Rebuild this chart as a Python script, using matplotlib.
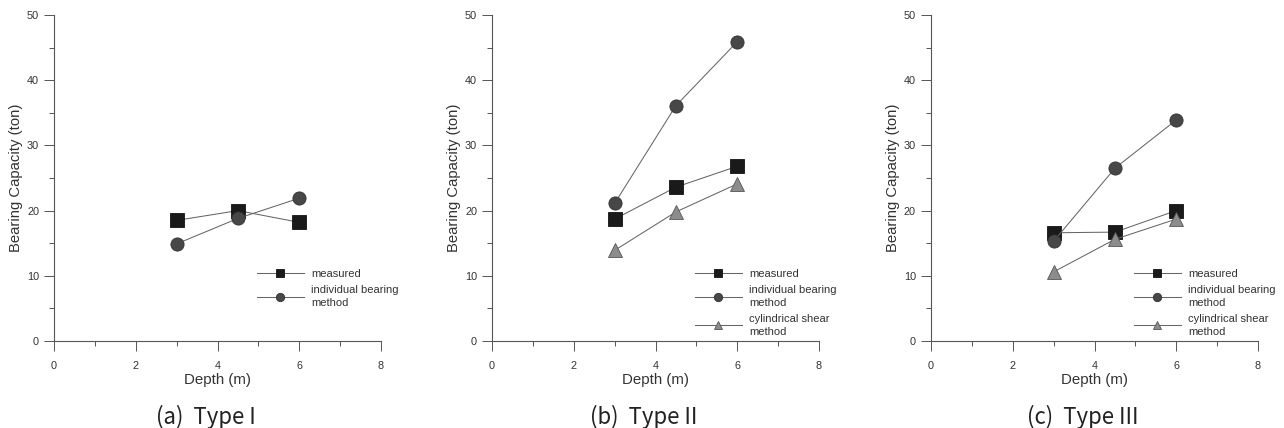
import matplotlib
matplotlib.use("Agg")
import matplotlib.pyplot as plt

plt.rcParams['font.family'] = ['Liberation Sans', 'DejaVu Sans']

depth = [3, 4.5, 6]

# panel (a) Type I
a_measured = [18.5, 20.0, 18.2]
a_individual = [14.9, 18.8, 21.9]

# panel (b) Type II
b_measured = [18.7, 23.6, 26.8]
b_individual = [21.1, 36.1, 45.9]
b_cylindrical = [13.9, 19.8, 24.1]

# panel (c) Type III
c_measured = [16.6, 16.7, 20.0]
c_individual = [15.3, 26.5, 33.9]
c_cylindrical = [10.6, 15.6, 18.7]

captions = ['(a)  Type I', '(b)  Type II', '(c)  Type III']
labels = ['measured', 'individual bearing\nmethod', 'cylindrical shear\nmethod']

panels = [
    [a_measured, a_individual, None],
    [b_measured, b_individual, b_cylindrical],
    [c_measured, c_individual, c_cylindrical],
]

styles = [
    dict(marker='s', mfc='#1a1a1a', mec='#111111', ms=9.5),
    dict(marker='o', mfc='#474747', mec='#333333', ms=9.5),
    dict(marker='^', mfc='#8c8c8c', mec='#555555', ms=10),
]

fig = plt.figure(figsize=(12.84, 4.28), dpi=100)
lefts = [54, 492, 931]
W, H = 1284, 428
text_c = '#333333'

for k, series in enumerate(panels):
    ax = fig.add_axes([lefts[k] / W, 1 - 341 / H, 327 / W, 326 / H])
    handles = []
    for s, vals in enumerate(series):
        if vals is None:
            continue
        st = styles[s]
        ax.plot(depth, vals, color='#666666', lw=0.75, marker=st['marker'],
                ms=st['ms'], mfc=st['mfc'], mec=st['mec'], mew=0.6,
                clip_on=False, zorder=3)
        h, = ax.plot([], [], color='#666666', lw=0.75, marker=st['marker'],
                     ms=6, mfc=st['mfc'], mec=st['mec'], mew=0.6)
        handles.append(h)
    ax.set_xlim(0, 8)
    ax.set_ylim(0, 50)
    ax.set_xticks([0, 2, 4, 6, 8])
    ax.set_xticks([1, 3, 5, 7], minor=True)
    ax.set_yticks([0, 10, 20, 30, 40, 50])
    ax.set_yticks([5, 15, 25, 35, 45], minor=True)
    for sp in ['top', 'right']:
        ax.spines[sp].set_visible(False)
    for sp in ['left', 'bottom']:
        ax.spines[sp].set_color('#555555')
        ax.spines[sp].set_linewidth(0.8)
    ax.tick_params(which='major', direction='out', length=7.2, width=0.7,
                   color='#555555', labelsize=7.8, labelcolor=text_c)
    ax.tick_params(which='minor', direction='out', length=3.3, width=0.7,
                   color='#555555')
    ax.tick_params(axis='x', which='major', pad=7)
    ax.tick_params(axis='y', which='major', pad=3.6)
    ax.set_xlabel('Depth (m)', fontsize=10.8, color=text_c)
    ax.set_ylabel('Bearing Capacity (ton)', fontsize=10.7, color=text_c)
    ax.xaxis.set_label_coords(0.5, -0.098)
    ax.yaxis.set_label_coords(-0.095, 0.5)

    leg = ax.legend(handles, labels[:len(handles)], loc='upper left',
                    bbox_to_anchor=(0.621, 0.22), frameon=False, fontsize=8,
                    handlelength=4.2, handletextpad=0.65, labelspacing=0.48,
                    borderpad=0, borderaxespad=0)
    for t in leg.get_texts():
        t.set_color(text_c)
        t.set_linespacing(1.45)

    ax.text(0.463, -0.232, captions[k], transform=ax.transAxes, ha='center',
            va='center', fontsize=16, color='#222222',
            family=['Noto Sans CJK KR', 'DejaVu Sans'])

fig.savefig('out.png', dpi=100)
